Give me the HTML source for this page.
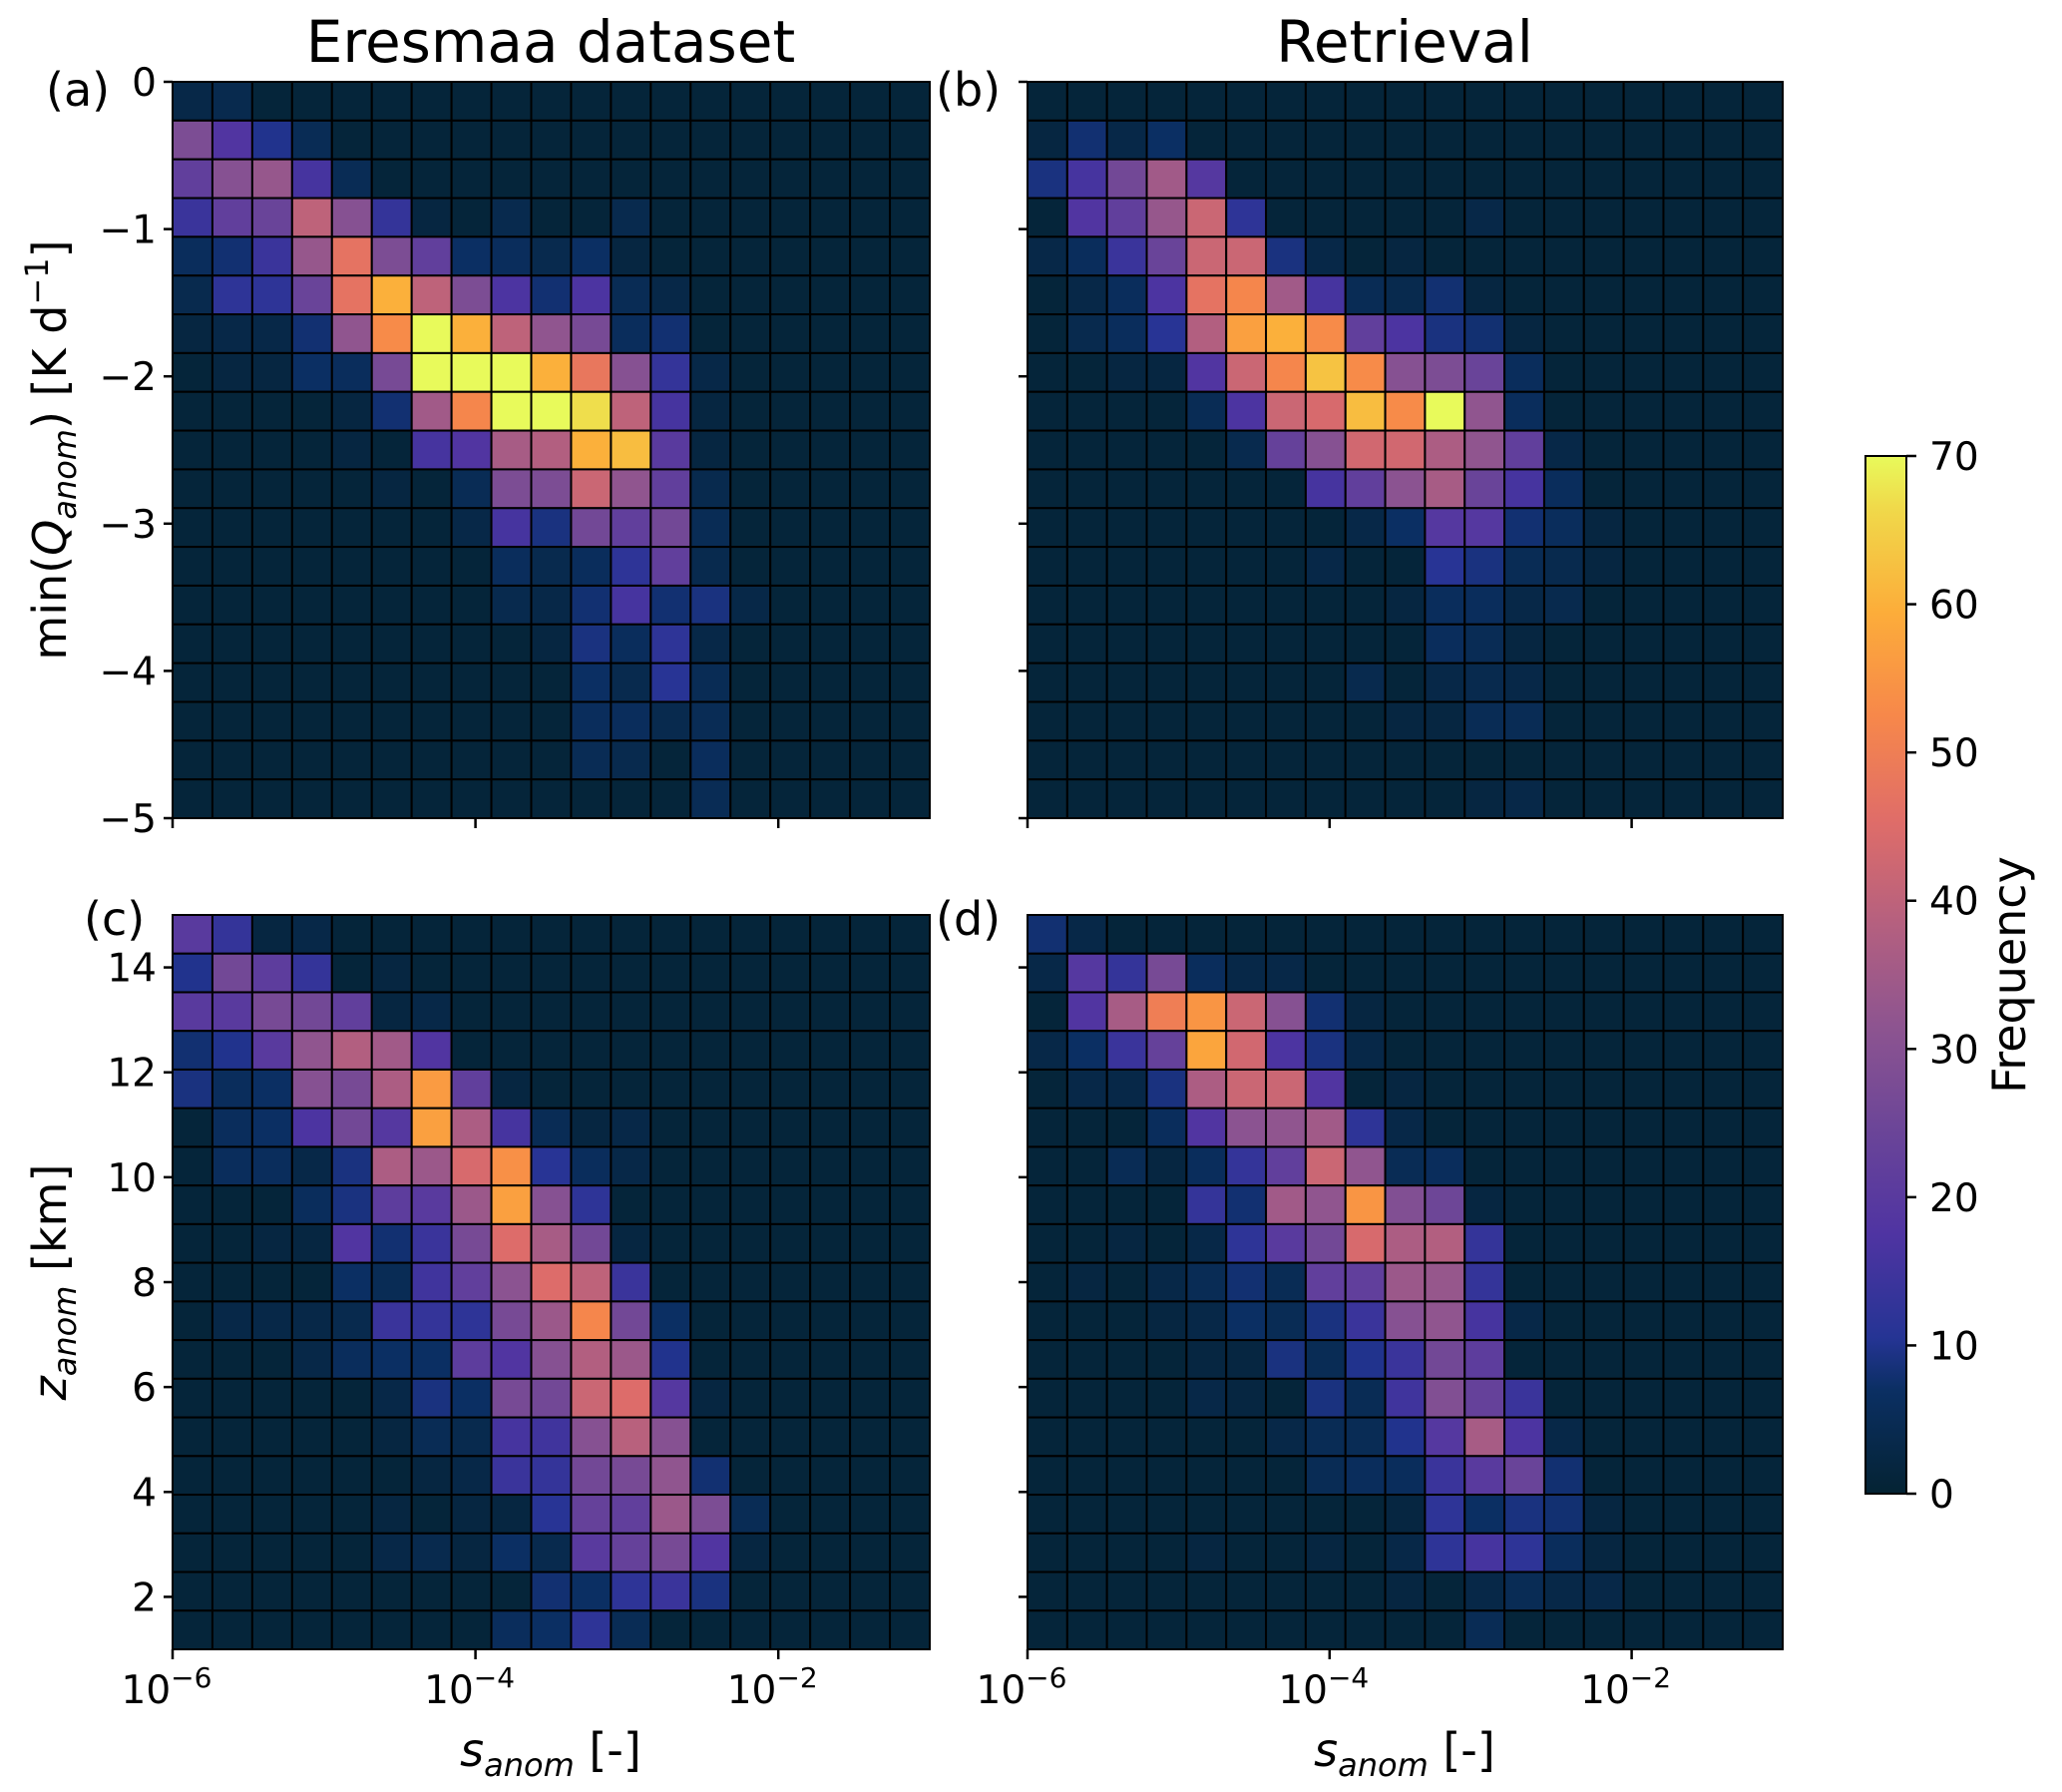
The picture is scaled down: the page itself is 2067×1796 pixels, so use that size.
<!DOCTYPE html>
<html><head><meta charset="utf-8"><style>
html,body{margin:0;padding:0;background:#fff}
svg{display:block}
text{font-family:"DejaVu Sans","Liberation Sans",sans-serif;fill:#000}
</style></head><body>
<svg id="fig" width="2067" height="1796" viewBox="0 0 2067 1796" xmlns="http://www.w3.org/2000/svg">
<defs>
<linearGradient id="cbgrad" x1="0" y1="1" x2="0" y2="0">
<stop offset="0" stop-color="#042333"/><stop offset="0.1" stop-color="#0b2f63"/><stop offset="0.15" stop-color="#253494"/>
<stop offset="0.25" stop-color="#4f34a2"/><stop offset="0.35" stop-color="#6b4598"/><stop offset="0.45" stop-color="#8d5490"/>
<stop offset="0.55" stop-color="#b5607f"/><stop offset="0.65" stop-color="#e06d68"/><stop offset="0.75" stop-color="#f7884a"/>
<stop offset="0.85" stop-color="#fcad3a"/><stop offset="0.95" stop-color="#f0d94a"/><stop offset="1" stop-color="#e8fa5b"/>
</linearGradient>
</defs>
<text x="552" y="62" font-size="58" text-anchor="middle">Eresmaa dataset</text>
<text x="1408" y="62" font-size="58" text-anchor="middle">Retrieval</text>
<text x="46" y="106" font-size="46">(a)</text>
<text x="938" y="106" font-size="46">(b)</text>
<text x="84" y="937" font-size="46">(c)</text>
<text x="938" y="937" font-size="46">(d)</text>
<text transform="translate(66,451) rotate(-90)" font-size="46" text-anchor="middle">min(<tspan font-style="italic">Q</tspan><tspan font-style="italic" font-size="32" dy="10">anom</tspan><tspan dy="-10">) [K d</tspan><tspan font-size="32" dy="-18">−1</tspan><tspan dy="18">]</tspan></text>
<text transform="translate(66,1285) rotate(-90)" font-size="46" text-anchor="middle"><tspan font-style="italic">z</tspan><tspan font-style="italic" font-size="32" dy="10">anom</tspan><tspan dy="-10"> [km]</tspan></text>
<text x="552" y="1770" font-size="46" text-anchor="middle"><tspan font-style="italic">s</tspan><tspan font-style="italic" font-size="32" dy="10">anom</tspan><tspan dy="-10"> [-]</tspan></text>
<text x="1408" y="1770" font-size="46" text-anchor="middle"><tspan font-style="italic">s</tspan><tspan font-style="italic" font-size="32" dy="10">anom</tspan><tspan dy="-10"> [-]</tspan></text>
<g id="panels"></g>
<g id="colorbar">
<rect x="1870" y="457" width="41" height="1040" fill="url(#cbgrad)" stroke="#000" stroke-width="2"/>
</g>
<text transform="translate(2030,977) rotate(-90)" font-size="46" text-anchor="middle">Frequency</text>
</svg>
<script>
const xEdgeMinLog = -6, xEdgeMaxLog = -1;
const xTickExps = [-6, -4, -2];
const qTicks = [0, -1, -2, -3, -4, -5];
const zTicks = [2, 4, 6, 8, 10, 12, 14];
const cbTicks = [0, 10, 20, 30, 40, 50, 60, 70];
const qRange = [0, -5];
const zRange = [15, 1];
const vmax = 70;

const eresmaaQ = [
[3,4,1,1,1,1,1,1,1,1,1,1,1,1,1,1,1,1,1],
[28,18,10,5,1,1,1,1,1,1,1,1,1,1,1,1,1,1,1],
[22,30,33,16,5,1,1,1,1,1,1,1,1,1,1,1,1,1,1],
[14,22,24,40,30,13,2,1,4,1,1,4,1,1,1,1,1,1,1],
[6,8,14,33,47,28,22,7,6,4,7,2,1,1,1,1,1,1,1],
[4,12,12,24,47,60,40,28,17,8,17,5,3,1,1,1,1,1,1],
[2,3,3,8,32,53,70,60,40,32,27,6,8,1,1,1,1,1,1],
[1,2,2,7,6,27,70,70,70,60,48,30,13,3,1,1,1,1,1],
[1,1,1,1,2,8,35,52,70,70,67,40,16,2,1,1,1,1,1],
[1,1,1,1,2,1,16,18,36,38,60,62,20,2,1,1,1,1,1],
[1,1,1,1,1,2,1,5,28,28,42,32,22,4,1,1,1,1,1],
[1,1,1,1,1,1,1,3,16,9,26,22,26,5,1,1,1,1,1],
[1,1,1,1,1,1,1,1,6,4,6,12,22,4,1,1,1,1,1],
[1,1,1,1,1,1,1,1,4,3,8,16,8,9,3,1,1,1,1],
[1,1,1,1,1,1,1,1,1,2,9,6,12,3,1,1,1,1,1],
[1,1,1,1,1,1,1,1,1,1,7,4,11,5,1,1,1,1,1],
[1,1,1,1,1,1,1,1,1,1,6,6,4,5,1,1,1,1,1],
[1,1,1,1,1,1,1,1,1,1,5,4,1,6,1,1,1,1,1],
[1,1,1,1,1,1,1,1,1,1,1,1,1,5,1,1,1,1,1]];

const retrievalQ = [
[1,1,1,1,1,1,1,1,1,1,1,1,1,1,1,1,1,1,1],
[2,8,3,7,1,1,1,1,1,1,1,1,1,1,1,1,1,1,1],
[9,16,26,35,19,1,1,1,1,1,1,1,1,1,1,1,1,1,1],
[1,18,22,33,42,12,1,1,1,1,1,3,1,1,1,1,1,1,1],
[3,6,14,24,42,42,9,3,1,2,1,1,1,1,1,1,1,1,1],
[1,3,6,17,47,52,35,16,5,4,8,2,1,1,1,1,1,1,1],
[1,4,6,11,38,57,60,53,22,17,9,8,2,1,1,1,1,1,1],
[1,1,2,2,18,42,52,63,53,30,28,24,6,1,1,1,1,1,1],
[1,1,1,1,5,17,42,44,62,53,70,32,6,1,1,1,1,1,1],
[1,1,1,1,1,4,23,30,43,43,37,32,22,3,1,1,1,1,1],
[1,1,1,1,1,1,1,16,22,31,36,24,16,6,1,1,1,1,1],
[1,1,1,1,1,1,1,1,3,7,19,19,8,6,2,1,1,1,1],
[1,1,1,1,1,1,1,3,1,1,11,9,5,4,2,1,1,1,1],
[1,1,1,1,1,1,1,1,1,2,6,6,3,4,1,1,1,1,1],
[1,1,1,1,1,1,1,1,1,1,6,5,2,1,1,1,1,1,1],
[1,1,1,1,1,1,1,1,4,1,3,4,3,1,1,1,1,1,1],
[1,1,1,1,1,1,1,1,1,2,2,5,5,1,1,1,1,1,1],
[1,1,1,1,1,1,1,1,1,1,1,1,1,1,1,1,1,1,1],
[1,1,1,1,1,1,1,1,1,1,1,2,3,1,1,1,1,1,1]];

const eresmaaZ = [
[20,13,2,3,1,1,1,1,1,1,1,1,1,1,1,1,1,1,1],
[10,26,21,13,1,2,1,1,1,1,1,1,1,1,1,1,1,1,1],
[20,20,27,26,22,2,3,1,1,1,1,1,1,1,1,1,1,1,1],
[8,10,20,32,38,35,18,1,1,1,1,1,1,1,1,1,1,1,1],
[9,6,7,30,27,37,56,22,2,1,1,1,1,1,1,1,1,1,1],
[1,6,7,17,26,19,57,37,16,5,2,3,1,1,1,1,1,1,1],
[1,6,6,3,9,37,34,44,54,11,6,3,1,1,1,1,1,1,1],
[1,1,1,6,9,21,20,34,57,30,12,1,1,1,1,1,1,1,1],
[1,1,2,2,18,8,14,27,45,36,26,2,1,1,1,1,1,1,1],
[1,1,1,1,7,5,15,22,31,45,40,14,1,1,1,1,1,1,1],
[1,3,3,3,4,14,13,12,27,34,52,26,7,1,1,1,1,1,1],
[1,1,1,3,6,7,7,21,18,30,38,34,10,1,1,1,1,1,1],
[1,1,1,1,1,3,9,7,27,26,42,45,19,2,1,1,1,1,1],
[1,1,1,1,1,2,5,4,16,15,30,39,30,1,1,1,1,1,1],
[1,1,1,1,1,1,2,3,14,13,26,27,32,8,1,1,1,1,1],
[1,1,1,1,1,2,1,2,2,11,23,22,34,28,5,1,1,1,1],
[1,1,1,1,1,3,4,2,7,4,20,23,27,18,2,1,1,1,1],
[1,1,1,1,1,1,1,1,1,8,7,12,14,9,1,1,1,1,1],
[1,1,1,1,1,1,1,1,6,7,12,5,1,1,1,1,1,1,1]];

const retrievalZ = [
[8,3,1,1,1,1,1,1,1,1,1,1,1,1,1,1,1,1,1],
[3,19,13,27,6,3,3,1,1,1,1,1,1,1,1,1,1,1,1],
[1,18,36,50,55,42,30,8,2,1,1,1,1,1,1,1,1,1,1],
[3,7,14,23,58,43,17,9,3,1,1,1,1,1,1,1,1,1,1],
[1,3,3,9,37,42,42,18,1,2,1,1,1,1,1,1,1,1,1],
[1,1,1,6,18,31,32,35,12,3,1,1,1,1,1,1,1,1,1],
[1,1,5,2,6,13,22,42,32,5,6,1,1,1,1,1,1,1,1],
[1,1,1,1,13,8,35,32,55,29,25,2,1,1,1,1,1,1,1],
[1,1,2,1,3,12,20,26,44,37,38,13,1,1,1,1,1,1,1],
[1,2,1,3,5,8,5,22,22,34,33,13,1,1,1,1,1,1,1],
[1,1,1,2,3,7,5,9,14,30,32,16,3,1,1,1,1,1,1],
[1,1,1,1,2,2,9,5,10,14,26,21,1,1,1,1,1,1,1],
[1,1,1,1,3,2,1,9,5,15,29,23,14,1,1,1,1,1,1],
[1,1,1,1,1,1,3,5,5,10,19,36,17,3,1,1,1,1,1],
[1,1,1,1,1,1,1,5,6,6,14,20,24,8,1,1,1,1,1],
[1,1,1,1,1,1,1,1,1,2,12,7,9,8,2,1,1,1,1],
[1,1,1,1,2,1,1,2,1,3,12,16,12,6,2,1,1,1,1],
[1,1,1,1,1,1,1,1,1,2,1,3,5,3,3,1,1,1,1],
[1,1,1,1,1,1,1,1,1,1,1,5,1,1,1,1,1,1,1]];

const stops = [[0,[4,35,51]],[0.1,[11,47,99]],[0.15,[37,52,148]],[0.25,[79,52,162]],[0.35,[107,69,152]],[0.45,[141,84,144]],[0.55,[181,96,127]],[0.65,[224,109,104]],[0.75,[247,136,74]],[0.85,[252,173,58]],[0.95,[240,217,74]],[1,[232,250,91]]];
function cmap(v){
  let t=Math.max(0,Math.min(1,v/vmax));
  for(let i=1;i<stops.length;i++){
    if(t<=stops[i][0]){
      const a=stops[i-1],b=stops[i];const f=(t-a[0])/(b[0]-a[0]);
      const c=a[1].map((x,k)=>Math.round(x+(b[1][k]-x)*f));
      return 'rgb('+c.join(',')+')';
    }
  }
  return 'rgb(232,250,91)';
}
const NS='http://www.w3.org/2000/svg';
function mk(tag,attrs,parent){const e=document.createElementNS(NS,tag);for(const k in attrs)e.setAttribute(k,attrs[k]);parent.appendChild(e);return e;}
const panelsG=document.getElementById('panels');

const panels=[
 {id:'a',data:eresmaaQ,x0:173,x1:932,y0:82,y1:820,yr:qRange,yt:qTicks,ylab:true,xlab:false},
 {id:'b',data:retrievalQ,x0:1030,x1:1787,y0:82,y1:820,yr:qRange,yt:qTicks,ylab:false,xlab:false},
 {id:'c',data:eresmaaZ,x0:173,x1:932,y0:917,y1:1653,yr:zRange,yt:zTicks,ylab:true,xlab:true},
 {id:'d',data:retrievalZ,x0:1030,x1:1787,y0:917,y1:1653,yr:zRange,yt:zTicks,ylab:false,xlab:true}];

panels.forEach(p=>{
  const g=mk('g',{},panelsG);
  
  
  const xs=lg=>p.x0+(lg-xEdgeMinLog)/(xEdgeMaxLog-xEdgeMinLog)*(p.x1-p.x0);
  const ys=v=>p.y0+(v-p.yr[0])/(p.yr[1]-p.yr[0])*(p.y1-p.y0);
  const nr=p.data.length,nc=p.data[0].length;
  const dl=(xEdgeMaxLog-xEdgeMinLog)/nc, dv=(p.yr[1]-p.yr[0])/nr;
  for(let r=0;r<nr;r++)for(let c=0;c<nc;c++){
    const xa=xs(xEdgeMinLog+c*dl),xb=xs(xEdgeMinLog+(c+1)*dl);
    const ya=ys(p.yr[0]+r*dv),yb=ys(p.yr[0]+(r+1)*dv);
    const cell=mk('rect',{x:xa,y:Math.min(ya,yb),width:xb-xa,height:Math.abs(yb-ya),fill:cmap(p.data[r][c]),stroke:'#000','stroke-width':2},g);
    
    
  }
  p.yt.forEach(v=>{
    const y=ys(v);
    const t=mk('line',{x1:p.x0-9,x2:p.x0,y1:y,y2:y,stroke:'#000','stroke-width':2.5},g);
    
    
    if(p.ylab){
      const tx=mk('text',{x:p.x0-16,y:y+14,'font-size':39,'text-anchor':'end'},g);
      tx.textContent=(v<0?'\u2212'+(-v):String(v));
      
      
    }
  });
  xTickExps.forEach(e=>{
    const x=xs(e);
    const t=mk('line',{x1:x,x2:x,y1:p.y1,y2:p.y1+10,stroke:'#000','stroke-width':2.5},g);
    
    
    if(p.xlab){
      const tx=mk('text',{x:x-6,y:p.y1+54,'font-size':39,'text-anchor':'middle'},g);
      
      
      const b=mk('tspan',{},tx);b.textContent='10';
      const s=mk('tspan',{dy:-16,'font-size':28},tx);s.textContent='\u2212'+(-e);
    }
  });
});

const cb=document.getElementById('colorbar');
const cbY=v=>1497-(v/vmax)*1040;
cbTicks.forEach(v=>{
  const y=cbY(v);
  const t=mk('line',{x1:1911,x2:1921,y1:y,y2:y,stroke:'#000','stroke-width':2.5},cb);
  
  
  const tx=mk('text',{x:1934,y:y+14,'font-size':39},cb);
  tx.textContent=String(v);
  
  
});
</script>
</body></html>
